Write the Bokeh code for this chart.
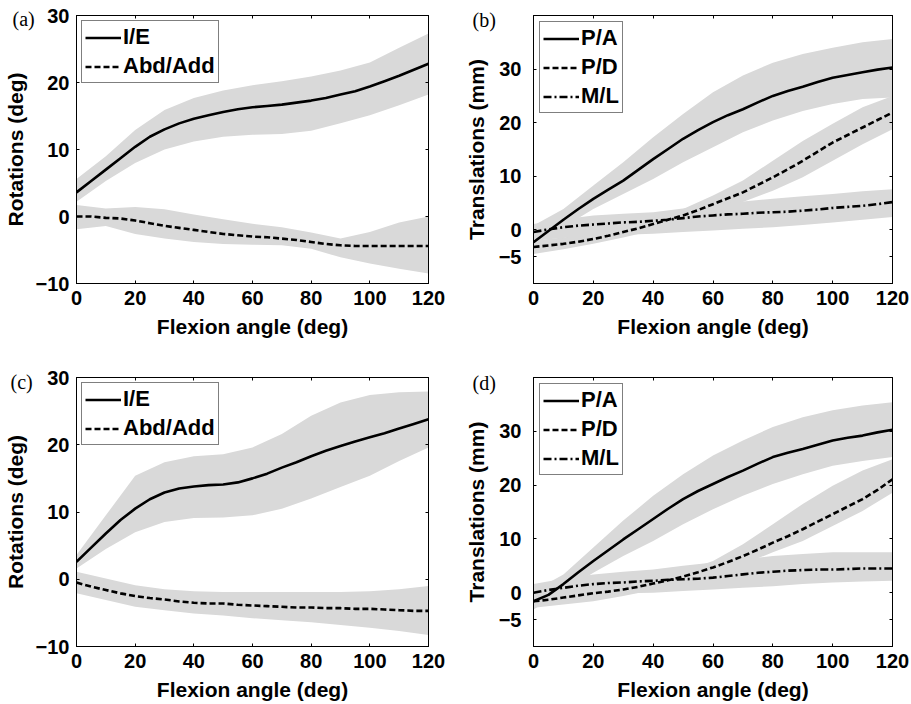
from bokeh.plotting import figure
from bokeh.layouts import gridplot
from bokeh.models import Range1d, FixedTicker, LinearAxis, Title
from bokeh.embed import file_html
from bokeh.resources import INLINE

# ---------------- data ----------------
flexion = [0, 10, 20, 30, 40, 50, 60, 70, 80, 90, 100, 110, 120]
flexion_fine = [0, 5, 10, 15, 20, 25, 30, 35, 40, 45, 50, 55, 60,
                 65, 70, 75, 80, 85, 90, 95, 100, 105, 110, 115, 120]
x_ticks = [0, 20, 40, 60, 80, 100, 120]
rot_ticks = [-10, 0, 10, 20, 30]
trans_ticks = [-5, 0, 10, 20, 30]

# (a) rotations -- mean curves (5 deg steps), bands (10 deg steps)
a_ie = [3.6, 5.3, 7.0, 8.7, 10.4, 11.9, 13.0, 13.9, 14.6, 15.1, 15.6, 16.0, 16.3,
        16.5, 16.7, 17.0, 17.3, 17.7, 18.2, 18.7, 19.4, 20.2, 21.0, 21.9, 22.8]
a_aa = [0.0, 0.0, -0.2, -0.3, -0.6, -1.0, -1.4, -1.7, -2.0, -2.3, -2.6, -2.8, -3.0,
        -3.1, -3.3, -3.5, -3.8, -4.1, -4.3, -4.4, -4.4, -4.4, -4.4, -4.4, -4.4]
a_ie_hi = [5.6, 9.0, 12.9, 15.9, 17.7, 18.8, 19.6, 20.2, 20.9, 21.8, 23.0, 25.2, 27.3]
a_ie_lo = [2.2, 5.3, 8.0, 10.0, 11.2, 11.9, 12.2, 12.3, 12.8, 13.9, 15.1, 16.6, 18.2]
a_aa_hi = [1.7, 1.2, 1.4, 1.1, 0.3, -0.4, -1.1, -1.6, -2.4, -3.3, -2.3, -0.9, 0.0]
a_aa_lo = [-1.9, -1.4, -2.6, -3.3, -3.8, -4.1, -4.2, -4.3, -4.8, -6.1, -7.0, -7.8, -8.5]

# (b) translations
b_pa = [-2.3, -0.2, 1.9, 3.9, 5.8, 7.5, 9.2, 11.2, 13.2, 15.1, 17.0, 18.6, 20.1,
        21.4, 22.5, 23.8, 25.0, 25.9, 26.7, 27.6, 28.4, 28.9, 29.4, 29.9, 30.3]
b_pd = [-3.2, -2.9, -2.6, -2.2, -1.7, -1.1, -0.4, 0.3, 1.1, 1.9, 2.7, 3.7, 4.8,
        5.9, 7.0, 8.4, 9.8, 11.3, 12.9, 14.6, 16.3, 17.7, 19.1, 20.5, 21.9]
b_ml = [-0.4, 0.1, 0.5, 0.8, 1.0, 1.2, 1.4, 1.5, 1.7, 1.9, 2.2, 2.5, 2.7,
        2.9, 3.0, 3.2, 3.3, 3.4, 3.6, 3.8, 4.1, 4.3, 4.5, 4.8, 5.2]
b_pa_hi = [0.8, 3.9, 8.3, 12.6, 17.3, 21.6, 25.7, 28.8, 31.2, 32.8, 34.0, 35.0, 35.6]
b_pa_lo = [-2.9, 0.5, 3.9, 6.7, 9.5, 12.6, 15.4, 18.2, 20.4, 22.2, 23.5, 24.4, 24.7]
b_pd_hi = [-2.0, -1.4, -0.7, 0.6, 2.0, 3.9, 6.4, 9.2, 12.9, 16.6, 19.8, 22.9, 25.0]
b_pd_lo = [-4.5, -3.6, -2.6, -1.4, -0.1, 1.4, 3.3, 5.2, 7.3, 9.8, 12.9, 16.0, 18.8]
b_ml_hi = [1.1, 2.0, 2.7, 3.0, 3.3, 4.0, 4.8, 5.3, 5.8, 6.3, 6.7, 7.2, 7.6]
b_ml_lo = [-2.0, -1.5, -1.1, -0.9, -0.7, -0.4, -0.1, 0.2, 0.5, 0.9, 1.4, 1.9, 2.4]

# (c) rotations
c_ie = [2.6, 4.7, 6.8, 8.8, 10.5, 11.9, 12.9, 13.5, 13.8, 14.0, 14.1, 14.4, 15.0,
        15.7, 16.6, 17.4, 18.3, 19.1, 19.8, 20.5, 21.1, 21.7, 22.4, 23.1, 23.8]
c_aa = [-0.5, -1.1, -1.6, -2.1, -2.5, -2.8, -3.0, -3.3, -3.5, -3.6, -3.6, -3.8, -3.9,
        -4.0, -4.1, -4.2, -4.2, -4.3, -4.3, -4.4, -4.4, -4.5, -4.6, -4.7, -4.7]
c_ie_hi = [3.6, 9.5, 15.4, 17.4, 18.3, 18.6, 19.6, 21.6, 24.3, 26.3, 27.4, 27.8, 27.9]
c_ie_lo = [1.6, 4.5, 7.0, 8.5, 9.1, 9.2, 9.5, 10.5, 12.0, 13.7, 15.4, 17.6, 19.6]
c_aa_hi = [1.1, 0.1, -0.9, -1.5, -1.8, -1.9, -1.9, -1.9, -1.9, -1.9, -1.8, -1.5, -1.0]
c_aa_lo = [-2.1, -3.1, -4.1, -4.6, -5.1, -5.4, -5.8, -6.1, -6.4, -6.8, -7.2, -7.7, -8.3]

# (d) translations
d_pa = [-1.6, -0.4, 1.6, 3.8, 5.9, 7.9, 9.9, 11.8, 13.7, 15.6, 17.4, 18.9, 20.2,
        21.5, 22.7, 24.0, 25.2, 26.0, 26.7, 27.5, 28.3, 28.8, 29.2, 29.8, 30.3]
d_pd = [-1.6, -1.3, -0.9, -0.5, -0.1, 0.2, 0.6, 1.1, 1.7, 2.3, 3.0, 3.8, 4.7,
        5.7, 6.8, 8.0, 9.3, 10.5, 11.8, 13.2, 14.6, 16.0, 17.4, 19.1, 21.1]
d_ml = [0.0, 0.5, 0.9, 1.3, 1.6, 1.8, 1.9, 2.1, 2.2, 2.4, 2.5, 2.6, 2.8,
        3.1, 3.4, 3.7, 3.9, 4.1, 4.2, 4.3, 4.3, 4.4, 4.5, 4.5, 4.5]
d_pa_hi = [0.3, 3.4, 8.4, 13.4, 18.0, 22.0, 25.5, 28.3, 30.8, 32.6, 33.9, 34.8, 35.4]
d_pa_lo = [-3.1, 0.3, 3.7, 6.8, 9.6, 12.7, 15.5, 18.0, 20.2, 22.0, 23.6, 24.5, 25.2]
d_pd_hi = [-0.3, 0.4, 1.2, 2.0, 2.8, 4.0, 5.9, 9.0, 12.7, 16.5, 19.9, 22.7, 24.8]
d_pd_lo = [-2.8, -2.2, -1.6, -0.6, 0.5, 1.9, 3.4, 5.3, 7.5, 9.6, 12.4, 15.2, 18.6]
d_ml_hi = [1.6, 2.6, 3.4, 3.9, 4.3, 5.0, 5.6, 6.2, 6.8, 7.2, 7.5, 7.5, 7.5]
d_ml_lo = [-0.9, -0.6, -0.3, -0.1, 0.0, 0.3, 0.6, 0.9, 1.2, 1.6, 1.9, 2.1, 2.2]

# ---------------- styling ----------------
BAND = "#d9d9d9"
FONT = "Liberation Sans"
DASH = {"solid": "solid", "dash": "6 3", "dashdot": "8 3 2 3"}


def make_panel(letter, ylabel, yr, yticks, bands, lines, w, h, borders,
               letter_dx, letter_standoff, ystand, ylabstand, xstand, xlabstand, lmargin):
    p = figure(width=w, height=h, output_backend="svg", toolbar_location=None,
               x_range=Range1d(0, 120), y_range=Range1d(*yr))
    p.min_border_left, p.min_border_right, p.min_border_top, p.min_border_bottom = borders
    p.xgrid.visible = False
    p.ygrid.visible = False
    p.outline_line_color = "black"
    p.outline_line_width = 1
    p.background_fill_color = "white"
    p.border_fill_color = "white"

    for lo, hi in bands:
        p.varea(x=flexion, y1=lo, y2=hi, fill_color=BAND, fill_alpha=1.0)
    for y, dash, name in lines:
        p.line(flexion_fine, y, line_color="black", line_width=2.6,
               line_dash=DASH[dash], legend_label=name)

    for ax, ticks, st, lab, lst in ((p.xaxis[0], x_ticks, xstand, "Flexion angle (deg)", xlabstand),
                                   (p.yaxis[0], yticks, ystand, ylabel, ylabstand)):
        ax.ticker = FixedTicker(ticks=ticks)
        ax.axis_label = lab
        ax.axis_label_text_font = FONT
        ax.axis_label_text_font_style = "bold"
        ax.axis_label_text_font_size = "21px"
        ax.axis_label_text_color = "black"
        ax.axis_label_standoff = lst
        ax.major_label_text_font = FONT
        ax.major_label_text_font_style = "bold"
        ax.major_label_text_font_size = "20px"
        ax.major_label_text_color = "black"
        ax.major_label_standoff = st
        ax.major_tick_in = 3
        ax.major_tick_out = 0
        ax.minor_tick_line_color = None
        ax.axis_line_color = "black"
        ax.major_tick_line_color = "black"

    for loc, ticks in (("above", x_ticks), ("right", yticks)):
        ax = LinearAxis(ticker=FixedTicker(ticks=ticks), major_label_text_font_size="1px",
                        major_label_text_color=None, major_label_standoff=0,
                        major_tick_in=3, major_tick_out=0,
                        minor_tick_line_color=None, axis_line_color="black",
                        major_tick_line_color="black")
        p.add_layout(ax, loc)

    lg = p.legend[0]
    lg.location = "top_left"
    lg.margin = lmargin
    lg.padding = 3
    lg.spacing = 3
    lg.label_standoff = 2
    lg.glyph_width = 36
    lg.glyph_height = 25
    lg.label_height = 25
    lg.label_text_font = FONT
    lg.label_text_font_style = "bold"
    lg.label_text_font_size = "22px"
    lg.label_text_color = "black"
    lg.border_line_color = "black"
    lg.border_line_width = 1
    lg.background_fill_color = "white"
    lg.background_fill_alpha = 1.0

    # panel letter: a (near) zero-height title in the top side panel, shifted left of the frame
    p.add_layout(Title(text=letter, align="left", vertical_align="bottom",
                       offset=letter_dx, standoff=letter_standoff,
                       text_font="Liberation Serif", text_font_style="normal",
                       text_font_size="20px", text_color="black"), "above")
    return p


pa = make_panel("(a)", "Rotations (deg)", (-10, 30), rot_ticks,
                [(a_ie_lo, a_ie_hi), (a_aa_lo, a_aa_hi)],
                [(a_ie, "solid", "I/E"), (a_aa, "dash", "Abd/Add")],
                455, 352, (76, 27, 15, 68), -64, -28, 7, 6, 7, 7, 5)
pb = make_panel("(b)", "Translations (mm)", (-10, 40), trans_ticks,
                [(b_pa_lo, b_pa_hi), (b_pd_lo, b_pd_hi), (b_ml_lo, b_ml_hi)],
                [(b_pa, "solid", "P/A"), (b_pd, "dash", "P/D"), (b_ml, "dashdot", "M/L")],
                456, 352, (78, 19, 14, 69), -61, -30, 12, 8, 7, 7, 6)
pc = make_panel("(c)", "Rotations (deg)", (-10, 30), rot_ticks,
                [(c_ie_lo, c_ie_hi), (c_aa_lo, c_aa_hi)],
                [(c_ie, "solid", "I/E"), (c_aa, "dash", "Abd/Add")],
                455, 352, (76, 27, 25, 57), -66, -30, 7, 6, 7, 7, 5)
pd_ = make_panel("(d)", "Translations (mm)", (-10, 40), trans_ticks,
                 [(d_pa_lo, d_pa_hi), (d_pd_lo, d_pd_hi), (d_ml_lo, d_ml_hi)],
                 [(d_pa, "solid", "P/A"), (d_pd, "dash", "P/D"), (d_ml, "dashdot", "M/L")],
                 456, 352, (78, 19, 24, 58), -61, -32, 12, 8, 7, 7, 6)

grid = gridplot([[pa, pb], [pc, pd_]], toolbar_location=None)

open("out.html", "w").write(file_html(grid, INLINE))
